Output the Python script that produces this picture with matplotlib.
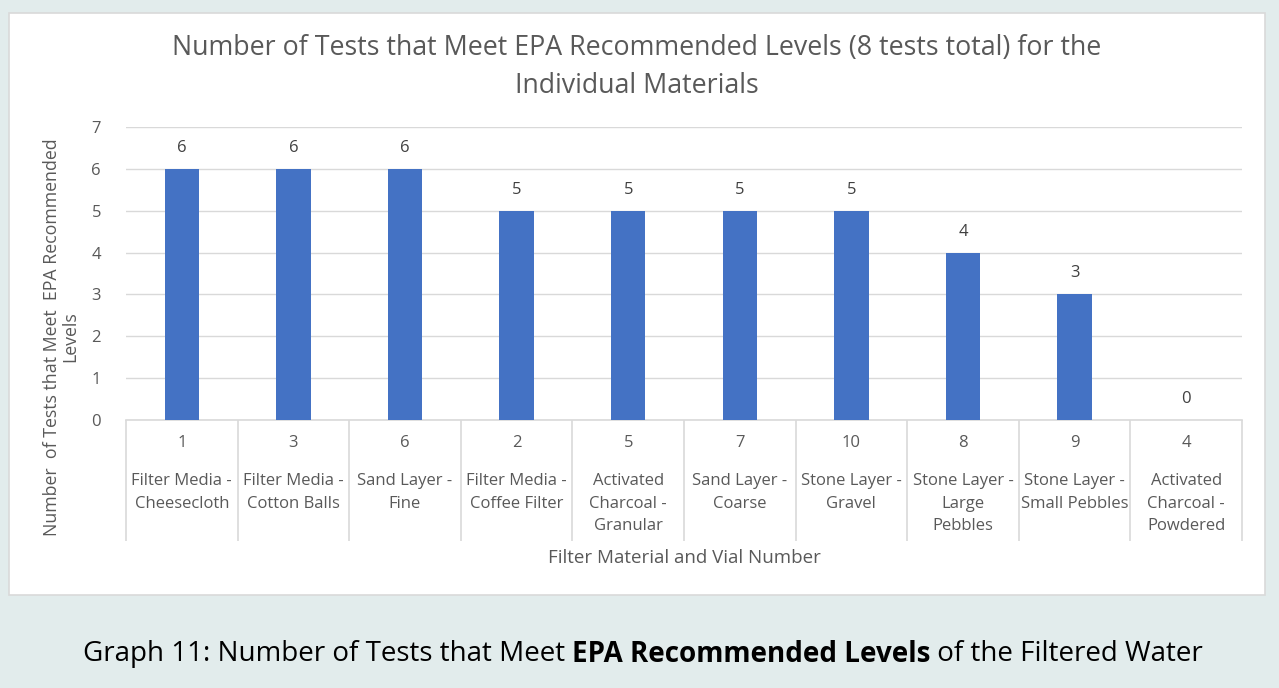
import matplotlib
matplotlib.use("Agg")
from matplotlib import pyplot as plt
from matplotlib.patches import Rectangle
import matplotlib.transforms as mtransforms

vials = ["1", "3", "6", "2", "5", "7", "10", "8", "9", "4"]
materials = ["Filter Media -\nCheesecloth", "Filter Media -\nCotton Balls", "Sand Layer -\nFine",
             "Filter Media -\nCoffee Filter", "Activated\nCharcoal -\nGranular", "Sand Layer -\nCoarse",
             "Stone Layer -\nGravel", "Stone Layer -\nLarge\nPebbles", "Stone Layer -\nSmall Pebbles",
             "Activated\nCharcoal -\nPowdered"]
tests_met = [6, 6, 6, 5, 5, 5, 5, 4, 3, 0]

W, H = 1279, 688
font = "Open Sans"
grey = "#595959"
line_grey = "#d9d9d9"

fig = plt.figure(figsize=(W / 100, H / 100), dpi=100, facecolor="#e2ecec")
plt.rcParams['font.family'] = [font, 'DejaVu Sans']

# white chart box
fig.patches.append(Rectangle((9 / W, 1 - 595 / H), (1265 - 9) / W, (595 - 13) / H,
                             transform=fig.transFigure, facecolor="white",
                             edgecolor=line_grey, linewidth=1.2, zorder=-5))

ax = fig.add_axes([126 / W, 1 - 420 / H, (1242 - 126) / W, (420 - 127) / H])
ax.set_zorder(2)
ax.set_facecolor("none")
x = list(range(len(vials)))
ax.bar(x, tests_met, width=0.31, color="#4472c4", zorder=3)
ax.set_xlim(-0.5, len(vials) - 0.5)
ax.set_ylim(0, 7)
ax.set_yticks(range(8))
ax.tick_params(axis="y", length=0, pad=18, labelsize=12, labelcolor=grey)
ax.yaxis.grid(True, color=line_grey, linewidth=1)
for s in ["top", "right", "left"]:
    ax.spines[s].set_visible(False)
ax.spines["bottom"].set_color(line_grey)
ax.spines["bottom"].set_linewidth(1.2)

# category separators
ax.set_xticks([i - 0.5 for i in range(len(vials) + 1)])
ax.set_xticklabels([])
ax.tick_params(axis="x", length=121 * 0.72, color=line_grey, width=1.2)

for i, v in enumerate(tests_met):
    ax.annotate(str(v), (i, v), xytext=(0, 21 * 0.72), textcoords="offset points",
                ha="center", va="center", fontsize=12, color="#404040")

trans = mtransforms.blended_transform_factory(ax.transData, fig.transFigure)
for i in range(len(vials)):
    fig.text(i, 1 - 443 / H, vials[i], transform=trans, ha="center", va="center",
             fontsize=12, color=grey)
    fig.text(i, 1 - 473 / H, materials[i], transform=trans, ha="center", va="top",
             fontsize=12, color=grey, linespacing=1.56)

fig.text(637 / W, 1 - 67 / H, "Number of Tests that Meet EPA Recommended Levels (8 tests total) for the\nIndividual Materials",
         ha="center", va="center", fontsize=19.3, color=grey, linespacing=1.5)
fig.text(684 / W, 1 - 558 / H, "Filter Material and Vial Number", ha="center", va="center",
         fontsize=13.5, color=grey)
fig.text(61 / W, 1 - 337 / H, "Number  of Tests that Meet  EPA Recommended\nLevels", rotation=90,
         ha="center", va="center", fontsize=12.8, color=grey, multialignment="center",
         linespacing=1.0)

# caption with bold middle part
renderer = fig.canvas.get_renderer()
parts = [("Graph 11: Number of Tests that Meet ", "normal"), ("EPA Recommended Levels", "bold"),
         (" of the Filtered Water", "normal")]
texts = []
total = 0
for s, wgt in parts:
    t = fig.text(0, 1 - 654 / H, s, fontsize=20, fontweight=wgt, color="black", va="center")
    w = t.get_window_extent(renderer).width
    texts.append((t, w))
    total += w
xpos = (643 - total / 2)
for t, w in texts:
    t.set_x(xpos / W)
    xpos += w

fig.savefig("out.png", dpi=100, facecolor=fig.get_facecolor())
